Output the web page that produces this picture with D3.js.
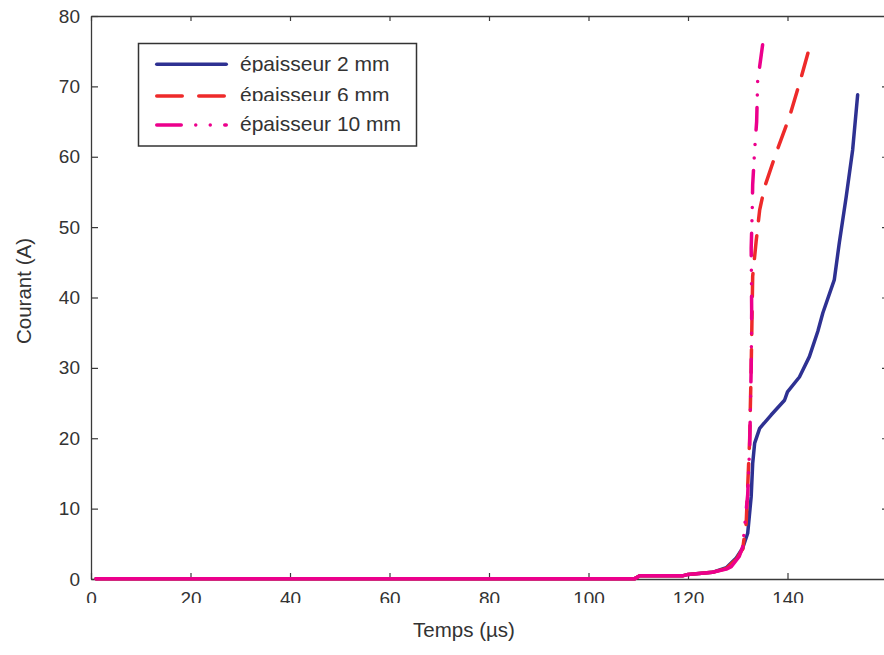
<!DOCTYPE html>
<html>
<head>
<meta charset="utf-8">
<script src="https://cdn.jsdelivr.net/npm/d3@7"></script>
<style>
  html, body { margin: 0; padding: 0; background: #fff; }
  svg { display: block; }
  text { font-family: "Liberation Sans", Arial, Helvetica, sans-serif; fill: #333; }
</style>
</head>
<body>
<svg id="chart" width="884" height="655"></svg>
<script>
// ---- data ----
const xTicks = [0, 20, 40, 60, 80, 100, 120, 140];
const yTicks = [0, 10, 20, 30, 40, 50, 60, 70, 80];
const xLabel = "Temps (µs)";
const yLabel = "Courant (A)";
const seriesNames = ["épaisseur 2 mm", "épaisseur 6 mm", "épaisseur 10 mm"];

const t2mm = [1, 109.3, 110.3, 118.9, 120, 124.9, 127.7, 129.7, 131, 132, 132.7, 133.0, 133.4, 134.4, 136.7, 139.4, 140.0, 142.4, 144.4, 146.1, 147.1, 149.4, 150.4, 151.8, 153.1, 154.1];
const i2mm = [0.05, 0.05, 0.45, 0.45, 0.65, 0.95, 1.6, 3.0, 4.4, 6.5, 11.7, 16.4, 19.3, 21.4, 23.3, 25.4, 26.6, 28.7, 31.6, 35.2, 37.8, 42.5, 47.7, 54.3, 61.0, 68.8];

const t6mm = [1, 109.3, 110.3, 118.9, 120, 124.9, 127.7, 129.7, 131, 131.7, 132.4, 132.7, 133.0, 133.7, 134.4, 135.4, 137.7, 140.4, 142.4, 144.1];
const i6mm = [0.05, 0.05, 0.45, 0.45, 0.65, 0.95, 1.5, 2.8, 4.3, 8, 20, 30, 43, 48, 52.4, 55.7, 60.5, 65.7, 70.4, 74.7];

const t10mm = [1, 109.3, 110.3, 118.9, 120, 124.9, 127.7, 128.7, 130.3, 131.0, 132.0, 132.4, 132.7, 132.8, 132.7, 132.9, 133.0, 133.4, 133.8, 134.0, 134.4, 135.0];
const i10mm = [0.05, 0.05, 0.45, 0.45, 0.65, 0.95, 1.4, 1.75, 3.2, 4.6, 12, 19, 30, 38, 47, 52, 56, 61, 65, 70.7, 72.8, 75.9];

const colors = ["#2e3192", "#ee2a2a", "#ec008c"];

// ---- layout ----
const svg = d3.select("#chart");
const L = 91, R = 887, T = 16, B = 579;
const x = d3.scaleLinear().domain([0, 160]).range([L, R]);
const y = d3.scaleLinear().domain([0, 80]).range([B, T]);
const axisColor = "#3a3a3a";

svg.append("defs").append("clipPath").attr("id", "xlabclip")
  .append("rect").attr("x", 0).attr("y", 0).attr("width", 884).attr("height", 603);

function styleAxis(g) {
  g.selectAll("path.domain").attr("stroke", axisColor).attr("stroke-width", 1.3);
  g.selectAll(".tick line").attr("stroke", axisColor).attr("stroke-width", 1.2);
  g.selectAll(".tick text").attr("fill", "#333").style("font-size", "19px")
    .style("font-family", "'Liberation Sans', Arial, sans-serif");
}

// bottom axis (labels clipped like the reference)
const gxWrap = svg.append("g").attr("clip-path", "url(#xlabclip)");
const gx = gxWrap.append("g").attr("transform", `translate(0,${B})`)
  .call(d3.axisBottom(x).tickValues(xTicks).tickSize(-6).tickSizeOuter(0).tickPadding(13));
styleAxis(gx);

// left axis
const gy = svg.append("g").attr("transform", `translate(${L},0)`)
  .call(d3.axisLeft(y).tickValues(yTicks).tickSize(-7).tickSizeOuter(0).tickPadding(11));
styleAxis(gy);

// top & right axes (ticks only)
const gt = svg.append("g").attr("transform", `translate(0,${T})`)
  .call(d3.axisTop(x).tickValues(xTicks).tickSize(-5).tickSizeOuter(0).tickFormat(""));
styleAxis(gt);
const gr = svg.append("g").attr("transform", `translate(${R},0)`)
  .call(d3.axisRight(y).tickValues(yTicks).tickSize(-5).tickSizeOuter(0).tickFormat(""));
styleAxis(gr);

// axis titles
svg.append("text").attr("x", 464).attr("y", 637).attr("text-anchor", "middle")
  .style("font-size", "20.5px").text(xLabel);
svg.append("text").attr("transform", "translate(30.5,291) rotate(-90)")
  .attr("text-anchor", "middle").style("font-size", "20.5px").text(yLabel);

// curves
const series = [
  { t: t2mm, v: i2mm, dash: null },
  { t: t6mm, v: i6mm, dash: [23, 15] },
  { t: t10mm, v: i10mm, dash: [22.5, 12.5, 0, 13.5, 0, 14.5] }
];
const line = d3.line().x(d => x(d[0])).y(d => y(d[1]));
series.forEach((s, k) => {
  const pts = s.t.map((tv, i) => [tv, s.v[i]]);
  if (s.dash) {
    // dense low-current part renders as a continuous stroke in the reference
    const low = pts.filter(p => p[1] <= 5);
    const high = pts.slice(low.length - 1);
    svg.append("path").attr("d", line(low)).attr("fill", "none")
      .attr("stroke", colors[k]).attr("stroke-width", 3.5)
      .attr("stroke-linejoin", "round").attr("stroke-linecap", "round");
    const p = svg.append("path").attr("d", line(high)).attr("fill", "none")
      .attr("stroke", colors[k]).attr("stroke-width", 3.5)
      .attr("stroke-linejoin", "round").attr("stroke-linecap", "round")
      .attr("stroke-dasharray", s.dash.join(","));
    // phase the pattern so the curve ends on a dash, as in the reference
    const len = p.node().getTotalLength();
    const period = d3.sum(s.dash);
    const off = ((s.dash[0] - (len % period)) % period + period) % period;
    p.attr("stroke-dashoffset", off);
  } else {
    svg.append("path").attr("d", line(pts)).attr("fill", "none")
      .attr("stroke", colors[k]).attr("stroke-width", 3.5)
      .attr("stroke-linejoin", "round").attr("stroke-linecap", "round");
  }
});

// legend
const lg = svg.append("g");
lg.append("rect").attr("x", 138.5).attr("y", 43.5).attr("width", 278).attr("height", 102.5)
  .attr("fill", "#fff").attr("stroke", "#333").attr("stroke-width", 1.5);
const rowLine = [64.3, 96, 125];
const rowBase = [71, 101.5, 131];
const bgTop = [45, 72.5, 101];
const bgBot = [72.5, 101, 145];
const legDash = [null, "25.5,16.5", "24.5,14.5,0,14.5,0,14.5"];
seriesNames.forEach((name, k) => {
  lg.append("rect").attr("x", 236).attr("y", bgTop[k]).attr("width", 178)
    .attr("height", bgBot[k] - bgTop[k]).attr("fill", "#fff");
  lg.append("line").attr("x1", 156.75).attr("x2", 226.25)
    .attr("y1", rowLine[k]).attr("y2", rowLine[k])
    .attr("stroke", colors[k]).attr("stroke-width", 3.5)
    .attr("stroke-linecap", "round").attr("stroke-dasharray", legDash[k]);
  lg.append("text").attr("x", 240).attr("y", rowBase[k])
    .style("font-size", "21px").text(name);
});
</script>
</body>
</html>
